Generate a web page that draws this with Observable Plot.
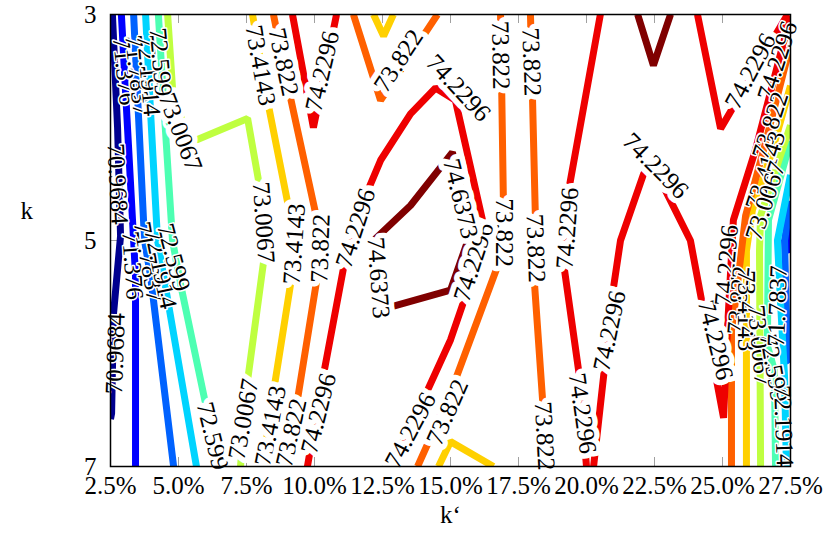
<!DOCTYPE html>
<html>
<head>
<meta charset="utf-8">
<script src="https://cdn.jsdelivr.net/npm/d3@7"></script>
<script src="https://cdn.jsdelivr.net/npm/@observablehq/plot@0.6"></script>
<style>
  html, body { margin: 0; padding: 0; background: white; }
  svg text { font-family: "Liberation Serif", "Times New Roman", serif; }
</style>
</head>
<body>
<div id="chart"></div>
<script>
// Contour levels and their colours (jet palette)
const levels = [70.9684, 71.376, 71.7837, 72.1914, 72.599, 73.0067, 73.4143, 73.822, 74.2296, 74.6373];
const levelNames = ["70.9684", "71.376", "71.7837", "72.1914", "72.599", "73.0067", "73.4143", "73.822", "74.2296", "74.6373"];
const levelColors = ["#00008f", "#0000ff", "#0062ff", "#00d4ff", "#4dffb2", "#bfff40", "#ffd000", "#ff6000", "#ee0000", "#800000"];

// Axis ticks
const xTicks = [2.5, 5, 7.5, 10, 12.5, 15, 17.5, 20, 22.5, 25, 27.5];
const yTicks = [3, 5, 7];

// Contour polylines, [k' (%), k] pairs
const c70_9684 = [
  [[2.57,3],[2.76,4.0],[2.87,4.96],[2.61,5.65],[2.54,6.53],[2.50,6.58]]
];
const c71_376 = [
  [[2.90,3],[3.35,5.0],[3.42,5.31],[3.42,7]],
  [[27.5,4.89],[27.39,5.0],[27.5,5.11]]
];
const c71_7837 = [
  [[3.35,3],[3.75,5.0],[3.97,5.31],[4.82,7]],
  [[27.5,4.65],[27.28,5.0],[27.39,6.04],[27.5,6.08]]
];
const c72_1914 = [
  [[3.79,3],[3.97,3.85],[4.23,5.0],[4.45,5.31],[5.66,7]],
  [[27.5,4.42],[27.02,5.0],[27.13,5.53],[27.28,6.2],[27.35,7]]
];
const c72_599 = [
  [[4.26,3],[4.45,3.76],[4.78,5.0],[5.07,5.38],[6.07,6.53],[6.54,7]],
  [[27.5,4.12],[26.69,4.82],[26.65,5.93],[26.91,6.15],[26.95,7]]
];
const c73_0067 = [
  [[4.60,3],[4.78,3.65],[5.37,4.14],[7.54,3.92],[8.01,4.56],[8.16,5.13],[7.54,6.24],[7.28,7]],
  [[27.5,3.98],[27.13,4.25],[26.40,4.78],[26.36,5.09],[26.40,7]]
];
const c73_4143 = [
  [[7.72,3],[8.27,3.76],[9.19,4.88],[9.38,5.09],[9.19,5.28],[8.46,6.39],[8.09,7]],
  [[12.17,3],[12.54,3.19],[12.90,3]],
  [[14.56,7],[15.0,6.78],[16.58,7]],
  [[27.5,3.63],[26.84,4.20],[26.10,4.73],[25.88,5.09],[25.88,7]]
];
const c73_822 = [
  [[8.49,3],[9.04,3.65],[10.15,4.88],[10.29,5.04],[10.15,5.25],[9.30,6.52],[8.82,7]],
  [[11.43,3],[12.43,3.76],[14.52,3]],
  [[16.84,3],[16.95,4.73],[16.88,5.13],[15.0,6.35],[13.79,7]],
  [[17.94,3],[18.13,4.88],[18.05,5.25],[18.42,6.53],[18.49,7]],
  [[27.5,3.27],[26.51,4.20],[25.85,4.78],[25.48,5.53],[25.33,5.80],[25.33,7]]
];
const c74_2296 = [
  [[9.19,3],[9.96,4.0],[10.81,3]],
  [[9.74,7],[10.22,6.33],[11.14,5.15],[11.80,4.65],[12.43,4.29],[13.53,3.88],[14.45,3.65],[15.18,3.76],[16.29,4.94],[15.63,5.44],[15.0,5.88],[13.90,6.46],[12.72,7]],
  [[20.51,3],[19.34,4.56],[19.15,5.19],[19.71,6.15],[20.0,7]],
  [[24.08,3],[24.93,4.01],[27.39,3]],
  [[27.5,3.01],[26.21,4.20],[25.40,4.82],[25.18,5.80],[25.04,6.57],[23.82,5.0],[22.72,4.47],[22.39,4.32],[22.10,4.41],[21.25,5.0],[20.99,5.42],[20.26,7]]
];
const c74_6373 = [
  [[21.88,3],[22.46,3.45],[23.09,3]],
  [[12.17,5.0],[13.53,4.69],[15.07,4.22],[15.74,4.93],[15.0,5.44],[12.32,5.62],[12.17,5.0]]
];
const contourSets = [c70_9684, c71_376, c71_7837, c72_1914, c72_599, c73_0067, c73_4143, c73_822, c74_2296, c74_6373];

// Contour labels in open areas: [level index, k', k, angle]
const labelList = [
  [5, 5.07, 4.04, 69],
  [4, 6.25, 6.73, 76],
  [5, 8.13, 4.84, 86], [5, 7.39, 6.58, -80],
  [6, 8.01, 3.45, 80], [6, 9.26, 5.03, -86], [6, 8.38, 6.64, -79],
  [7, 8.86, 3.42, 78], [7, 10.22, 5.07, -88], [7, 9.15, 6.70, -77],
  [7, 13.09, 3.41, -57], [7, 16.84, 3.36, 89], [7, 16.95, 4.93, 90], [7, 14.89, 6.52, -66],
  [7, 17.98, 3.42, 88], [7, 18.13, 5.07, 88], [7, 18.46, 6.73, 87],
  [8, 10.29, 3.50, -77], [8, 11.51, 4.89, -72], [8, 10.15, 6.53, -76],
  [8, 15.29, 3.65, 47], [8, 15.85, 5.19, -72], [8, 13.53, 6.68, -62],
  [8, 19.30, 4.89, -86], [8, 19.85, 6.53, 82], [8, 20.85, 5.80, -78],
  [8, 22.54, 4.34, 45], [8, 24.74, 5.88, 76], [8, 26.03, 3.50, -62],
  [9, 12.35, 5.33, 86], [9, 15.37, 4.63, 76]
];
// Contour labels inside the crowded bands at both edges
const denseLabelList = [
  [0, 2.76, 4.50, 87], [0, 2.68, 6.0, -88],
  [1, 3.01, 3.50, 84], [2, 3.49, 3.54, 84], [3, 3.90, 3.54, 85], [4, 4.34, 3.42, 85],
  [1, 3.31, 5.22, 86], [2, 3.90, 5.19, 80], [3, 4.34, 5.25, 78], [4, 4.82, 5.15, 75],
  [8, 27.02, 3.41, -72], [8, 25.15, 5.22, -85],
  [7, 26.76, 3.98, -72], [6, 26.58, 4.38, -72], [5, 26.58, 4.65, -72],
  [7, 25.59, 5.53, -85], [6, 25.88, 5.62, 90], [5, 26.36, 5.93, 85],
  [4, 26.88, 6.13, 80], [2, 27.02, 5.58, -88], [3, 27.24, 6.64, 88]
];

// Build tables for the marks
const lineRows = [];
contourSets.forEach((set, li) => {
  set.forEach((poly, pi) => {
    poly.forEach(([x, y]) => lineRows.push({level: levels[li], id: li + "-" + pi, x, y}));
  });
});
const toRows = list => list.map(([li, x, y, a]) => ({text: levelNames[li], x, y, angle: a}));
const labelRows = toRows(labelList);
const denseRows = toRows(denseLabelList);

const W = 825, H = 537, mL = 110, mR = 35, mT = 14, mB = 71;
const plotH = H - mT - mB, plotW = W - mL - mR, tk = 9;
const serif = "Liberation Serif, Times New Roman, serif";

const chart = Plot.plot({
  width: W, height: H,
  marginLeft: mL, marginRight: mR, marginTop: mT, marginBottom: mB,
  x: {domain: [2.5, 27.5]},
  y: {domain: [3, 7], reverse: true},
  color: {type: "ordinal", domain: levels, range: levelColors},
  style: {fontFamily: serif, fontSize: "25px", background: "white", color: "black"},
  marks: [
    // inward tick marks on all sides
    Plot.tickX(xTicks, {x: d => d, insetBottom: plotH - tk, stroke: "#a0a0a0", strokeWidth: 1}),
    Plot.tickX(xTicks, {x: d => d, insetTop: plotH - tk, stroke: "#a0a0a0", strokeWidth: 1}),
    Plot.tickY(yTicks, {y: d => d, insetRight: plotW - tk, stroke: "#a0a0a0", strokeWidth: 1}),
    Plot.tickY(yTicks, {y: d => d, insetLeft: plotW - tk, stroke: "#a0a0a0", strokeWidth: 1}),
    Plot.line(lineRows, {x: "x", y: "y", z: "id", stroke: "level", strokeWidth: 7, strokeLinejoin: "miter", strokeLinecap: "butt", clip: true}),
    Plot.text(labelRows, {x: "x", y: "y", text: "text", rotate: "angle", fontSize: 25, fontFamily: serif, fill: "black", stroke: "white", strokeWidth: 11, strokeLinejoin: "round"}),
    Plot.text(denseRows, {x: "x", y: "y", text: "text", rotate: "angle", fontSize: 25, fontFamily: serif, fill: "black", stroke: "white", strokeWidth: 3, strokeLinejoin: "round"}),
    Plot.frame({stroke: "black", strokeWidth: 1.5}),
    Plot.axisX(xTicks, {tickSize: 0, tickPadding: 10, tickFormat: d => d.toFixed(1) + "%", label: null, fontFamily: serif}),
    Plot.axisY(yTicks, {tickSize: 0, tickPadding: 14, tickFormat: d => String(d), label: null, fontFamily: serif}),
    Plot.text(["k"], {frameAnchor: "left", dx: -90, dy: -30, fontSize: 25, fontFamily: serif, fill: "black"}),
    Plot.text(["k‘"], {frameAnchor: "bottom", dy: 56, fontSize: 25, fontFamily: serif, fill: "black"})
  ]
});
document.getElementById("chart").appendChild(chart);
</script>
</body>
</html>
